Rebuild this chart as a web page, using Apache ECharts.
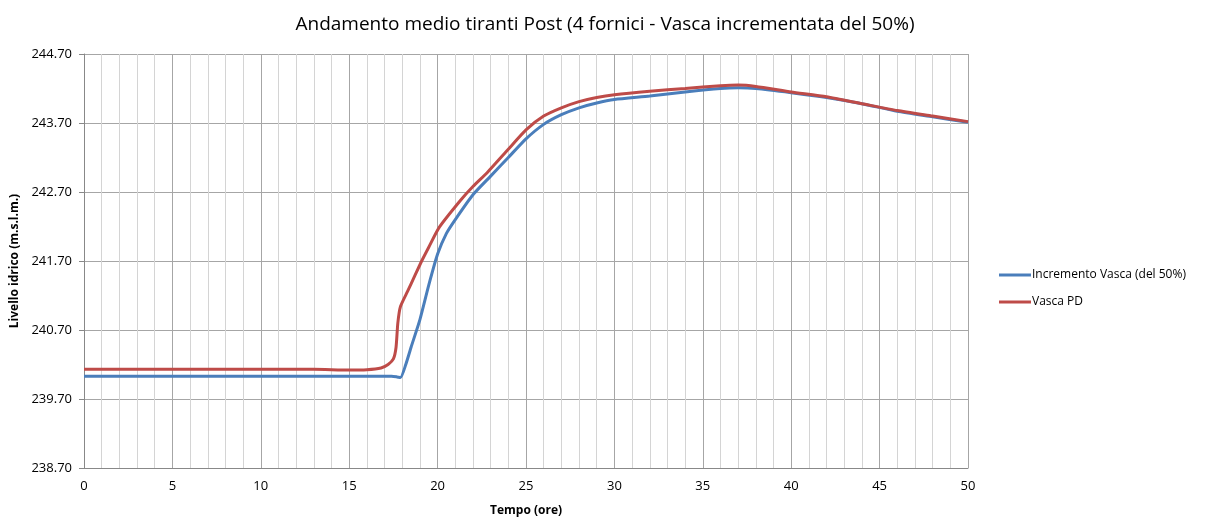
<!DOCTYPE html>
<html>
<head>
<meta charset="utf-8">
<script src="https://cdn.jsdelivr.net/npm/echarts@6/dist/echarts.min.js"></script>
<style>
  html, body { margin: 0; padding: 0; background: #fff; }
  #chart { width: 1206px; height: 517px; }
</style>
</head>
<body>
<div id="chart"></div>
<script>
// Incremento Vasca (del 50%)
var tBlue = [0, 5, 10, 15, 17.4, 17.7, 17.9, 18.2, 18.5, 19.0, 19.5, 20.0, 20.5, 21, 22, 23, 24, 25, 26, 27, 28, 29, 30, 32, 34, 36, 37, 38, 40, 42, 44, 46, 48, 50];
var yBlue = [240.03, 240.03, 240.03, 240.03, 240.03, 240.02, 240.01, 240.2, 240.45, 240.85, 241.35, 241.8, 242.1, 242.3, 242.66, 242.93, 243.2, 243.47, 243.68, 243.82, 243.92, 243.99, 244.04, 244.09, 244.15, 244.2, 244.21, 244.2, 244.14, 244.07, 243.98, 243.87, 243.79, 243.71];

// Vasca PD
var tRed = [0, 5, 10, 13, 15, 16, 16.8, 17.2, 17.5, 17.65, 17.75, 17.9, 18.3, 18.7, 19.1, 19.5, 20.1, 21.3, 22, 22.8, 24, 25, 26, 27, 28, 29, 30, 32, 34, 36, 37, 38, 40, 42, 44, 46, 48, 50];
var yRed = [240.13, 240.13, 240.13, 240.13, 240.12, 240.125, 240.15, 240.2, 240.28, 240.45, 240.8, 241.04, 241.26, 241.48, 241.7, 241.9, 242.19, 242.58, 242.78, 242.98, 243.32, 243.6, 243.8, 243.92, 244.01, 244.07, 244.11, 244.16, 244.2, 244.24, 244.25, 244.23, 244.15, 244.08, 243.98, 243.88, 243.8, 243.72];

var seriesNames = ["Incremento Vasca (del 50%)", "Vasca PD"];

function pairs(t, y) {
  var out = [];
  for (var i = 0; i < t.length; i++) out.push([t[i], y[i]]);
  return out;
}

var chart = echarts.init(document.getElementById("chart"));

chart.setOption({
  backgroundColor: "#ffffff",
  animation: false,
  color: ["#4a7ebb", "#be4b48"],
  title: {
    text: "Andamento medio tiranti Post (4 fornici - Vasca incrementata del 50%)",
    left: 600,
    textAlign: "center",
    top: 10,
    textStyle: {
      fontFamily: "Open Sans",
      fontSize: 19,
      fontWeight: "normal",
      color: "#000"
    }
  },
  legend: {
    orient: "vertical",
    left: 994,
    top: 264,
    itemWidth: 32,
    itemHeight: 3,
    itemGap: 15,
    icon: "rect",
    textStyle: { fontFamily: "Open Sans", fontSize: 12, color: "#000", padding: [0, 0, 0, -4] },
    data: seriesNames
  },
  grid: {
    left: 84,
    right: 238,
    top: 54,
    bottom: 49,
    outerBoundsMode: "none"
  },
  xAxis: {
    type: "value",
    min: 0,
    max: 50,
    interval: 5,
    name: "Tempo (ore)",
    nameLocation: "middle",
    nameGap: 37,
    nameTextStyle: { fontFamily: "Open Sans", fontSize: 12, fontWeight: "bold", color: "#000" },
    axisLine: { show: true, lineStyle: { color: "#888", width: 1 } },
    axisTick: { show: false },
    axisLabel: { fontFamily: "Open Sans", fontSize: 13, color: "#000", margin: 12 },
    splitLine: { show: true, lineStyle: { color: "#a6a6a6", width: 1 } },
    minorTick: { show: false, splitNumber: 5 },
    minorSplitLine: { show: true, lineStyle: { color: "#d4d4d4", width: 1 } }
  },
  yAxis: {
    type: "value",
    min: 238.7,
    max: 244.7,
    interval: 1,
    name: "Livello idrico (m.s.l.m.)",
    nameLocation: "middle",
    nameGap: 62,
    nameTextStyle: { fontFamily: "Open Sans", fontSize: 12, fontWeight: "bold", color: "#000" },
    axisLine: { show: true, lineStyle: { color: "#888", width: 1 } },
    axisTick: { show: true, length: 5, lineStyle: { color: "#888" } },
    axisLabel: {
      fontFamily: "Open Sans",
      fontSize: 13,
      color: "#000",
      margin: 12,
      formatter: function (v) { return v.toFixed(2); }
    },
    splitLine: { show: true, lineStyle: { color: "#a6a6a6", width: 1 } }
  },
  series: [
    {
      name: seriesNames[0],
      type: "line",
      data: pairs(tBlue, yBlue),
      showSymbol: false,
      smooth: 0.2,
      lineStyle: { width: 3 },
      z: 2
    },
    {
      name: seriesNames[1],
      type: "line",
      data: pairs(tRed, yRed),
      showSymbol: false,
      smooth: 0.2,
      lineStyle: { width: 3 },
      z: 3
    }
  ]
});
</script>
</body>
</html>
